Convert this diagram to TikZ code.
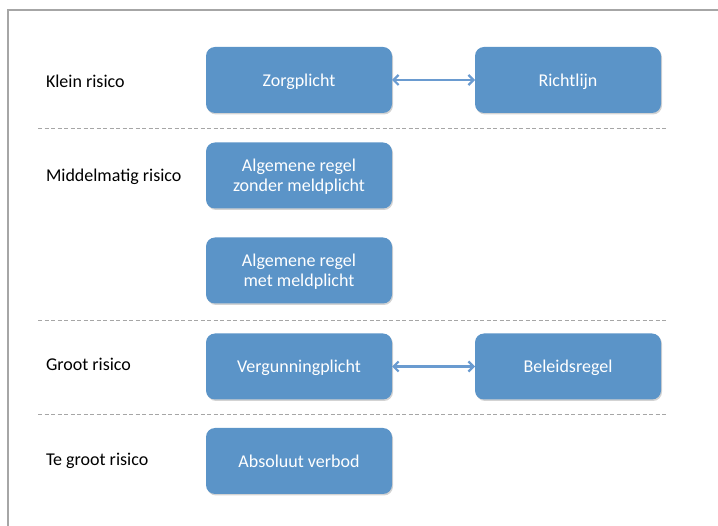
\documentclass[tikz,border=0pt]{standalone}
\usepackage{fontspec}
\setmainfont{Carlito}
\usetikzlibrary{arrows.meta,shadows}

\definecolor{boxblue}{HTML}{5B94C8}
\definecolor{arrowblue}{HTML}{6A9BD0}
\definecolor{rulegray}{HTML}{A6A6A6}

\begin{document}
\begin{tikzpicture}[x=1pt,y=-1pt,
  every node/.style={outer sep=0pt, font=\fontsize{18}{20}\selectfont},
  regel/.style={fill=boxblue, rounded corners=9pt, minimum width=186pt, minimum height=66pt,
    text=white, align=center, inner sep=0pt, text depth=0pt,
    drop shadow={shadow xshift=1pt, shadow yshift=-1.5pt, opacity=0.35}},
  niveau/.style={anchor=west, inner sep=0pt},
  scheiding/.style={rulegray, line width=0.9pt, dash pattern=on 4pt off 2.5pt},
  pijl/.style={arrowblue, line width=2.2pt, {Straight Barb[length=5pt,width=10pt]}-{Straight Barb[length=5pt,width=10pt]}}]
\useasboundingbox (0,0) rectangle (718,526);
\draw[rulegray, line width=1.2pt] (8,526) -- (8,10) -- (718,10);

\node[niveau] (klein) at (46,81) {Klein risico};
\node[niveau] (middel) at (46,177) {Middelmatig risico};
\node[niveau] (groot) at (46,364) {Groot risico};
\node[niveau] (tegroot) at (46,461) {Te groot risico};

\node[regel] (zorg) at (299,80) {Zorgplicht};
\node[regel] (richt) at (568,80) {Richtlijn};
\node[regel] (zonder) at (299,175.5) {Algemene regel\\zonder meldplicht};
\node[regel] (met) at (299,270.5) {Algemene regel\\met meldplicht};
\node[regel] (vergun) at (299,366.5) {Vergunningplicht};
\node[regel] (beleid) at (568,366.5) {Beleidsregel};
\node[regel] (verbod) at (299,461) {Absoluut verbod};

\draw[pijl] (zorg) -- (richt);
\draw[pijl] (vergun) -- (beleid);

\draw[scheiding] (38,128.5) -- (666,128.5);
\draw[scheiding] (38,320.5) -- (666,320.5);
\draw[scheiding] (38,414.5) -- (666,414.5);
\end{tikzpicture}
\end{document}
